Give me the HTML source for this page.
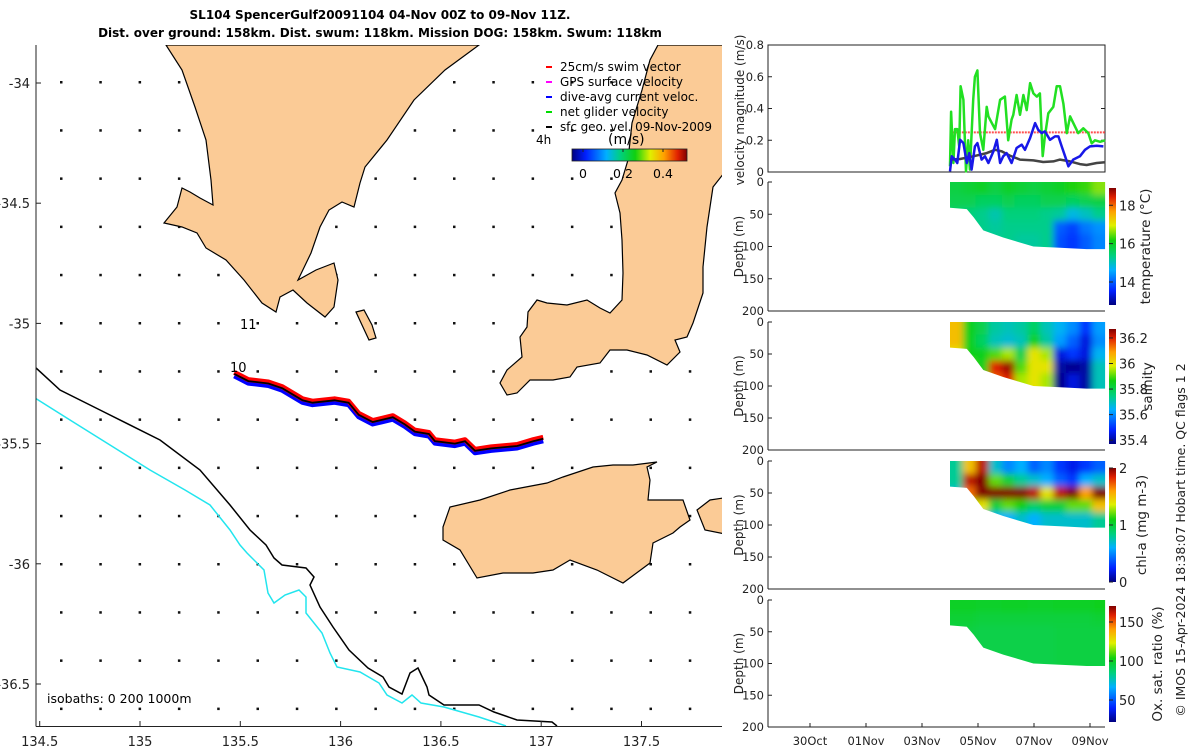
<!DOCTYPE html>
<html><head><meta charset="utf-8"><style>
html,body{margin:0;padding:0;background:#fff}
svg{display:block;font-family:"DejaVu Sans","Liberation Sans",sans-serif}
</style></head><body>
<svg id="s" width="1200" height="750" viewBox="0 0 1200 750" xmlns="http://www.w3.org/2000/svg">
<defs>
<linearGradient id="jetH" x1="0" x2="1" y1="0" y2="0">
<stop offset="0" stop-color="#000080"/><stop offset="0.12" stop-color="#0020ff"/><stop offset="0.3" stop-color="#00b0ff"/><stop offset="0.42" stop-color="#00d080"/><stop offset="0.55" stop-color="#10d010"/><stop offset="0.68" stop-color="#e0f000"/><stop offset="0.8" stop-color="#ffa000"/><stop offset="0.92" stop-color="#e02000"/><stop offset="1" stop-color="#800000"/>
</linearGradient>
<linearGradient id="jetV" x1="0" x2="0" y1="1" y2="0">
<stop offset="0" stop-color="#000080"/><stop offset="0.12" stop-color="#0020ff"/><stop offset="0.3" stop-color="#00b0ff"/><stop offset="0.42" stop-color="#00d080"/><stop offset="0.55" stop-color="#10d010"/><stop offset="0.68" stop-color="#e0f000"/><stop offset="0.8" stop-color="#ffa000"/><stop offset="0.92" stop-color="#e02000"/><stop offset="1" stop-color="#800000"/>
</linearGradient>
<clipPath id="mapclip"><rect x="36" y="45" width="686" height="681"/></clipPath>
<filter id="soft" x="-0.1" y="-0.1" width="1.2" height="1.2"><feGaussianBlur stdDeviation="3.5"/></filter>
</defs>
<text x="380" y="19" text-anchor="middle" font-size="12" font-weight="bold">SL104 SpencerGulf20091104 04-Nov 00Z to 09-Nov 11Z.</text>
<text x="380" y="37" text-anchor="middle" font-size="12" font-weight="bold">Dist. over ground: 158km. Dist. swum: 118km. Mission DOG: 158km. Swum: 118km</text>
<g id="map"></g>
<g id="right"></g>
</svg>
<script>
// ---------- DATA ----------
const velGreenT=[5.00,5.04,5.12,5.18,5.26,5.33,5.38,5.48,5.57,5.65,5.71,5.83,5.89,5.98,6.07,6.19,6.31,6.37,6.49,6.61,6.79,6.96,7.08,7.20,7.26,7.38,7.50,7.62,7.74,7.86,7.98,8.10,8.21,8.31,8.39,8.51,8.69,8.81,8.93,9.05,9.17,9.29,9.40,9.58,9.76,9.94,10.06,10.18,10.36,10.54];
const velGreenV=[0.036,0.38,0.057,0.27,0.27,0.16,0.54,0.455,0.004,0.20,0.015,0.455,0.60,0.64,0.245,0.14,0.41,0.35,0.31,0.27,0.455,0.475,0.20,0.33,0.36,0.485,0.36,0.485,0.39,0.56,0.495,0.475,0.495,0.10,0.225,0.37,0.41,0.54,0.54,0.43,0.245,0.35,0.31,0.245,0.275,0.245,0.18,0.20,0.19,0.20];
const velBlueT=[5.00,5.06,5.18,5.26,5.36,5.48,5.60,5.69,5.77,5.89,5.98,6.13,6.25,6.37,6.55,6.67,6.79,6.90,7.02,7.20,7.38,7.56,7.68,7.86,8.04,8.15,8.27,8.39,8.57,8.75,8.87,8.99,9.11,9.23,9.40,9.64,9.82,10.00,10.24,10.48];
const velBlueV=[0.004,0.099,0.078,0.057,0.203,0.182,0.057,0.119,0.015,0.161,0.182,0.078,0.099,0.057,0.130,0.203,0.057,0.099,0.119,0.057,0.151,0.172,0.140,0.214,0.308,0.266,0.245,0.256,0.203,0.224,0.224,0.161,0.099,0.036,0.078,0.099,0.140,0.161,0.165,0.161];
const velBlackT=[5.00,5.36,5.83,6.31,6.61,6.85,7.14,7.50,7.98,8.33,8.69,8.93,9.29,9.64,9.88,10.24,10.54];
const velBlackV=[0.078,0.082,0.099,0.119,0.140,0.130,0.103,0.078,0.073,0.063,0.067,0.078,0.067,0.050,0.044,0.057,0.061];
const swimSpeed=0.25;
const dateTickDays=[0,2,4,6,8,10];
const dateTickLabels=["30Oct","01Nov","03Nov","05Nov","07Nov","09Nov"];
const velTicks=[0,0.2,0.4,0.6,0.8];
const depthTicks=[0,50,100,150,200];
const secColT=[5.0,5.46,5.92,6.38,6.85,7.31,7.77,8.23,8.69,9.15,9.62,10.08,10.54];
const secRowD=[0,20,40,60,80,106];
const bottomT=[5.0,5.6,5.85,6.19,6.9,7.98,8.93,9.88,10.54];
const bottomD=[40,42,55,75,86,100,102,104,104];
const tempGrid=[[15.8,15.9,16.0,15.8,16.0,15.9,15.8,15.9,16.0,16.2,16.3,16.6],[15.7,15.7,15.6,15.6,15.7,15.6,15.6,15.7,15.7,15.6,15.7,15.8],[15.5,15.4,15.3,15.1,15.4,15.4,15.4,15.3,15.2,14.8,15.0,15.3],[15.4,15.4,15.3,15.2,15.3,15.3,15.3,15.3,14.0,13.8,14.2,14.4],[15.4,15.4,15.3,15.3,15.3,15.2,15.2,15.3,13.9,13.7,14.0,14.3]];
const salGrid=[[36.05,35.85,35.8,35.72,35.7,35.72,35.78,35.7,35.65,35.6,35.5,35.62],[36.05,35.85,35.78,35.7,35.68,35.7,35.85,35.72,35.62,35.55,35.45,35.6],[36.0,35.85,35.85,35.9,35.95,35.8,36.0,35.95,35.45,35.5,35.45,35.65],[36.0,35.9,35.85,36.2,36.25,35.9,36.0,36.0,35.4,35.38,35.4,35.7],[36.0,35.9,35.85,36.15,36.2,35.95,36.0,35.95,35.38,35.45,35.4,35.7]];
const chlGrid=[[0.8,1.5,1.9,0.7,0.5,0.6,0.4,0.5,0.3,0.2,0.3,0.4],[0.8,1.9,2.0,1.2,1.0,0.8,0.7,0.6,0.4,0.3,0.6,0.7],[0.7,1.7,2.0,2.0,2.0,2.0,1.9,1.4,1.9,2.0,1.6,2.0],[0.7,1.2,1.4,1.0,1.2,1.1,0.9,1.0,1.0,1.2,1.2,1.5],[0.7,0.8,0.7,0.6,0.6,0.7,0.6,0.7,0.7,0.7,0.7,0.8]];
const oxGrid=[[100,100,99,99,100,100,99,99,100,100,100,101],[97,97,96,96,96,96,96,96,96,96,96,97],[95,95,94,94,94,94,94,94,95,95,95,95],[95,95,94,94,94,94,94,94,95,95,95,95],[95,95,94,94,94,94,94,94,95,95,95,95]];
const trackLon=[135.47,135.54,135.64,135.71,135.81,135.86,135.97,136.04,136.09,136.16,136.26,136.32,136.37,136.44,136.47,136.57,136.62,136.67,136.75,136.88,136.96,137.01];
const trackLat=[-35.21,-35.24,-35.25,-35.27,-35.32,-35.33,-35.32,-35.33,-35.38,-35.41,-35.39,-35.42,-35.45,-35.46,-35.49,-35.50,-35.49,-35.53,-35.52,-35.51,-35.49,-35.48];
const lonTicks=[134.5,135,135.5,136,136.5,137,137.5];
const latTicks=[-34,-34.5,-35,-35.5,-36,-36.5];

// ---------- helpers ----------
const NS="http://www.w3.org/2000/svg";
function mk(parent,tag,attrs,txt){const e=document.createElementNS(NS,tag);for(const k in attrs)e.setAttribute(k,attrs[k]);if(txt!==undefined)e.textContent=txt;parent.appendChild(e);return e;}
const stops=[[0,[0,0,128]],[0.12,[0,32,255]],[0.3,[0,176,255]],[0.42,[0,208,128]],[0.55,[16,208,16]],[0.68,[224,240,0]],[0.8,[255,160,0]],[0.92,[224,32,0]],[1,[128,0,0]]];
function jet(f){f=Math.max(0,Math.min(1,f));for(let i=1;i<stops.length;i++){if(f<=stops[i][0]){const a=stops[i-1],b=stops[i];const t=(f-a[0])/(b[0]-a[0]);const c=a[1].map((v,k)=>Math.round(v+(b[1][k]-v)*t));return `rgb(${c})`;}}return "rgb(128,0,0)";}
const lonX=l=>140+(l-135)*200.6;
const latY=l=>83+(-34-l)*240.4;
const dayX=d=>810+d*28;
const PX0=768,PX1=1105;

// ---------- MAP ----------
const map=document.getElementById('map');
const mg=mk(map,'g',{'clip-path':'url(#mapclip)'});
const dots=mk(mg,'g',{});


for(let i=0;i<17;i++)for(let j=0;j<14;j++){mk(dots,'rect',{x:60+39.3*i,y:81+48.2*j,width:2.5,height:2.5,fill:'#111'});}
const landStyle={fill:'#fbcb96',stroke:'#000','stroke-width':1.2};
const lands=[
 ['yorke-peninsula',"166,45 182,70 195,107 206,140 211,180 213,205 200,198 190,192 182,188 177,207 164,223 182,227 197,233 206,248 226,260 244,280 262,303 276,312 280,297 293,290 307,303 325,317 334,307 338,280 334,263 316,270 298,280 311,253 320,227 329,210 342,202 354,207 360,183 365,167 387,140 414,100 445,70 479,45"],
 ['fleurieu-peninsula',"658,45 650,60 642,90 632,123 628,160 622,180 615,193 620,213 622,240 623,273 622,300 610,313 600,308 587,300 567,305 547,303 537,300 528,312 527,327 520,337 522,357 507,370 500,383 507,395 517,393 530,380 553,380 570,377 577,367 600,363 610,350 627,350 647,355 667,365 680,352 675,340 687,337 693,323 703,293 703,267 707,227 713,187 724,173 724,45"],
 ['kangaroo-island',"657,462 647,467 650,480 648,500 683,500 690,520 680,527 673,533 653,543 650,563 623,583 597,570 570,560 553,570 533,573 503,573 477,578 460,550 443,540 443,527 450,507 480,500 510,490 547,483 563,477 593,467 613,465 633,465"],
 ['mainland-south-east',"697,510 710,500 730,497 730,535 705,530"],
 ['althorpe-island',"356,312 364,310 372,325 376,338 369,340 362,325"]
];
lands.forEach(([n,p])=>{const e=mk(mg,'polygon',Object.assign({points:p},landStyle));});
const iso1=mk(mg,'polyline',{points:"35,367 60,390 100,410 160,440 200,470 230,505 250,530 266,545 274,558 282,565 306,568 314,577 310,585 320,607 333,627 349,650 368,668 383,677 389,687 402,694 410,673 418,668 427,687 429,695 444,705 479,705 494,712 517,720 552,722 557,726",fill:'none',stroke:'#000','stroke-width':1.5});


const iso2=mk(mg,'polyline',{points:"35,398 70,420 110,445 150,470 185,490 210,505 230,530 240,545 247,553 264,570 268,593 274,603 285,595 299,590 306,597 306,613 322,633 330,653 337,667 360,672 379,683 387,695 402,703 412,695 421,703 444,707 479,717 506,726",fill:'none',stroke:'#22e5ee','stroke-width':1.5});


const tp=trackLon.map((l,i)=>[lonX(l),latY(trackLat[i])]);
const ptsOff=(dy)=>tp.map(p=>`${p[0].toFixed(1)},${(p[1]+dy).toFixed(1)}`).join(' ');
const tb=mk(mg,'polyline',{points:ptsOff(2),fill:'none',stroke:'#0000ff','stroke-width':5,'stroke-linejoin':'round'});


const tr=mk(mg,'polyline',{points:ptsOff(-1.5),fill:'none',stroke:'#ff0000','stroke-width':5,'stroke-linejoin':'round'});


const tk=mk(mg,'polyline',{points:ptsOff(0),fill:'none',stroke:'#000','stroke-width':1.8});


const l10=mk(map,'text',{x:230,y:372,'font-size':13},'10');


const l11=mk(map,'text',{x:240,y:329,'font-size':13},'11');


mk(map,'line',{x1:36,y1:45,x2:36,y2:726.5,stroke:'#222','stroke-width':1});
mk(map,'line',{x1:36,y1:726.5,x2:722,y2:726.5,stroke:'#222','stroke-width':1});
lonTicks.forEach(l=>{const x=lonX(l);mk(map,'line',{x1:x,y1:726,x2:x,y2:721,stroke:'#222'});const t=mk(map,'text',{x:x,y:746,'font-size':13,'text-anchor':'middle',fill:'#222'},String(l));});
latTicks.forEach(l=>{const y=latY(l);mk(map,'line',{x1:36,y1:y,x2:41,y2:y,stroke:'#222'});const t=mk(map,'text',{x:30,y:y+5,'font-size':13,'text-anchor':'end',fill:'#222'},String(l));});
const isoT=mk(map,'text',{x:47,y:703,'font-size':12.5},'isobaths: 0   200  1000m');


const leg=mk(map,'g',{});


const legItems=[['25cm/s swim vector','#ff0000'],['GPS surface velocity','#ff00ff'],['dive-avg current veloc.','#0000ff'],['net glider velocity','#00dd00'],['sfc geo. vel. 09-Nov-2009','#000']];
legItems.forEach(([t,c],i)=>{const y=66+15*i;mk(leg,'line',{x1:546,y1:y+1,x2:552,y2:y+1,stroke:c,'stroke-width':2});const tx=mk(leg,'text',{x:560,y:y+5,'font-size':12},t);if(i==4)tx.setAttribute('textLength','152');});
mk(leg,'text',{x:536,y:144,'font-size':12},'4h');
mk(leg,'text',{x:608,y:144,'font-size':14},'(m/s)');
const mcb=mk(leg,'rect',{x:572,y:149,width:115,height:12,fill:'url(#jetH)',stroke:'#222','stroke-width':0.8});


[[583,'0'],[623,'0.2'],[663,'0.4']].forEach(([x,t])=>{mk(leg,'line',{x1:x,y1:149,x2:x,y2:152,stroke:'#222'});mk(leg,'text',{x:x,y:178,'font-size':12.5,'text-anchor':'middle'},t);});

// ---------- RIGHT PANELS ----------
const R=document.getElementById('right');
const VY0=172,VY1=45;
const vy=v=>VY0+(VY1-VY0)*v/0.8;
const vp=mk(R,'g',{});


mk(vp,'rect',{x:PX0,y:VY1,width:PX1-PX0,height:VY0-VY1,fill:'none',stroke:'#222','stroke-width':1});
velTicks.forEach(v=>{const y=vy(v);mk(vp,'line',{x1:PX0,y1:y,x2:PX0+4,y2:y,stroke:'#222'});mk(vp,'line',{x1:PX1,y1:y,x2:PX1-4,y2:y,stroke:'#222'});const t=mk(vp,'text',{x:764,y:y+4,'font-size':11.5,'text-anchor':'end',fill:'#222'},String(v));});
const vl=mk(vp,'text',{transform:'translate(744,110) rotate(-90)','font-size':12,'text-anchor':'middle',fill:'#222'},'velocity magnitude (m/s)');


const sw=mk(vp,'line',{x1:dayX(5.1),x2:dayX(10.54),y1:vy(swimSpeed),y2:vy(swimSpeed),stroke:'#ff5050','stroke-width':2,'stroke-dasharray':'2,1'});


function line(T,V,col,w,name){const p=T.map((t,i)=>`${dayX(t).toFixed(1)},${vy(V[i]).toFixed(1)}`).join(' ');const e=mk(vp,'polyline',{points:p,fill:'none',stroke:col,'stroke-width':w,'stroke-linejoin':'round'});}
line(velGreenT,velGreenV,'#22e022',2.5,'net-glider-velocity-line');
line(velBlackT,velBlackV,'#444',2.5,'geostrophic-velocity-line');
line(velBlueT,velBlueV,'#1818e8',2.5,'dive-avg-current-line');

const panels=[
 {y0:182,y1:311,grid:tempGrid,min:12.8,max:18.9,cb:[188,305],ticks:[[14,'14'],[16,'16'],[18,'18']],label:'temperature (°C)',lx:1150,name:'temperature'},
 {y0:322,y1:450,grid:salGrid,min:35.37,max:36.27,cb:[329,444],ticks:[[35.4,'35.4'],[35.6,'35.6'],[35.8,'35.8'],[36,'36'],[36.2,'36.2']],label:'salinity',lx:1152,name:'salinity'},
 {y0:461,y1:589,grid:chlGrid,min:0,max:2,cb:[468,582],ticks:[[0,'0'],[1,'1'],[2,'2']],label:'chl-a (mg m-3)',lx:1146,name:'chl-a'},
 {y0:600,y1:727,grid:oxGrid,min:21.8,max:170.5,cb:[606,722],ticks:[[50,'50'],[100,'100'],[150,'150']],label:'Ox. sat. ratio (%)',lx:1162,name:'oxygen'}
];
panels.forEach((P,pi)=>{
 const g=mk(R,'g',{});
 
 
 const dy=d=>P.y0+(P.y1-P.y0)*d/200;
 const cid='clip'+pi;
 const cp=mk(mk(R,'defs',{}),'clipPath',{id:cid});
 const poly=[`${dayX(bottomT[0])},${dy(0)}`].concat(bottomT.map((t,i)=>`${dayX(t).toFixed(1)},${dy(bottomD[i]).toFixed(1)}`)).concat([`${dayX(bottomT[bottomT.length-1])},${dy(0)}`]).join(' ');
 mk(cp,'polygon',{points:poly});
 const outer=mk(g,'g',{'clip-path':`url(#${cid})`});
 const cells=mk(outer,'g',{filter:'url(#soft)'});
 const nR=P.grid.length,nC=P.grid[0].length;
 P.grid.forEach((row,r)=>row.forEach((v,c)=>{
  let x=dayX(secColT[c]),x2=dayX(secColT[c+1]);let y=dy(secRowD[r]),y2=dy(secRowD[r+1]);
  if(c===0)x-=12; if(c===nC-1)x2+=12; if(r===0)y-=12; if(r===nR-1)y2+=12;
  const e=mk(cells,'rect',{x:x,y:y,width:x2-x+0.5,height:y2-y+0.5,fill:jet((v-P.min)/(P.max-P.min))});
  
  
 }));
 mk(g,'line',{x1:PX0,y1:P.y0,x2:PX0,y2:P.y1,stroke:'#222'});
 mk(g,'line',{x1:PX0,y1:P.y1,x2:PX1,y2:P.y1,stroke:'#222'});
 depthTicks.forEach(d=>{const y=dy(d);mk(g,'line',{x1:PX0,y1:y,x2:PX0+4,y2:y,stroke:'#222'});const t=mk(g,'text',{x:764,y:y+4,'font-size':11.5,'text-anchor':'end',fill:'#222'},String(d));});
 const dl=mk(g,'text',{transform:`translate(743,${(P.y0+P.y1)/2}) rotate(-90)`,'font-size':12,'text-anchor':'middle',fill:'#222'},'Depth (m)');
 
 
 const cb=mk(g,'rect',{x:1109,y:P.cb[0],width:7,height:P.cb[1]-P.cb[0],fill:'url(#jetV)'});
 
 
 P.ticks.forEach(([v,t])=>{const y=P.cb[1]-(P.cb[1]-P.cb[0])*(v-P.min)/(P.max-P.min);mk(g,'line',{x1:1109,y1:y,x2:1113,y2:y,stroke:'#222'});mk(g,'text',{x:1119,y:y+5,'font-size':13,fill:'#222'},t);});
 const lab=mk(g,'text',{transform:`translate(${P.lx},${(P.cb[0]+P.cb[1])/2}) rotate(-90)`,'font-size':13.5,'text-anchor':'middle',fill:'#222'},P.label);
 
 
 if(pi===3){dateTickDays.forEach((d,i)=>{const x=dayX(d);mk(g,'line',{x1:x,y1:P.y1,x2:x,y2:P.y1-4,stroke:'#222'});const t=mk(g,'text',{x:x,y:745,'font-size':11.5,'text-anchor':'middle',fill:'#222'},dateTickLabels[i]);});}
});
const cr=mk(R,'text',{transform:'translate(1185,540) rotate(-90)','font-size':12.5,'text-anchor':'middle',fill:'#222'},'© IMOS 15-Apr-2024 18:38:07 Hobart time. QC flags 1  2');


</script>
</body></html>
